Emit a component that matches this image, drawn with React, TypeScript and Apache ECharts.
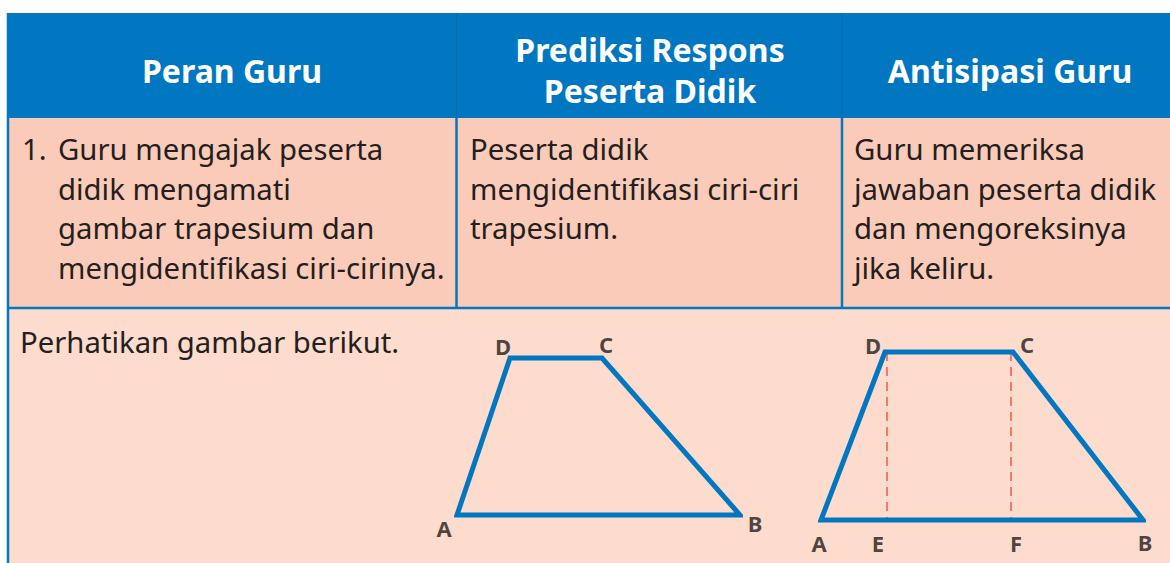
import React, { useEffect, useRef } from "react";
import * as echarts from "echarts";

// ---- table content ----
const headerCol1 = ["Peran Guru"];
const headerCol2 = ["Prediksi Respons", "Peserta Didik"];
const headerCol3 = ["Antisipasi Guru"];
const rowNumber = "1.";
const row1Col1 = [
  "Guru mengajak peserta",
  "didik mengamati",
  "gambar trapesium dan",
  "mengidentifikasi ciri-cirinya.",
];
const row1Col2 = ["Peserta didik", "mengidentifikasi ciri-ciri", "trapesium."];
const row1Col3 = [
  "Guru memeriksa",
  "jawaban peserta didik",
  "dan mengoreksinya",
  "jika keliru.",
];
const row2Text = "Perhatikan gambar berikut.";

// ---- figure 1: trapezium ABCD (figure units) ----
const fig1Names = ["A", "B", "C", "D"];
const fig1X = [0, 283, 145, 53];
const fig1Y = [0, 0, 157, 157];
const fig1LabelX = [-13, 298, 149, 46];
const fig1LabelY = [-13, -8, 171, 169];

// ---- figure 2: trapezium ABCD with heights DE, CF ----
const fig2Names = ["A", "B", "C", "D"];
const fig2X = [0, 322, 192, 64];
const fig2Y = [0, 0, 168, 168];
const fig2FootNames = ["E", "F"];
const fig2FootX = [66, 190];
const fig2LabelNames = ["A", "E", "F", "B", "C", "D"];
const fig2LabelX = [-2, 57, 195, 324, 206, 52];
const fig2LabelY = [-23, -23, -23, -22, 176, 175];

const BLUE = "#0077C0";
const ROW1 = "#FBCBB9";
const ROW2 = "#FDDBCD";
const INK = "#1E1B1C";
const DASH = "#F26F5E";

function App() {
  const ref = useRef<HTMLDivElement>(null);

  useEffect(() => {
    document.body.style.margin = "0";
    if (!ref.current) return;
    const chart = echarts.init(ref.current, undefined, { renderer: "svg" });

    const bodyFont = "29.3px 'Noto Sans'";
    const headFont = "bold 32px 'Noto Sans'";
    const g: any[] = [];
    // backgrounds
    g.push({ type: "rect", shape: { x: 7, y: 13, width: 1200, height: 105 }, style: { fill: BLUE } });
    g.push({ type: "rect", shape: { x: 7, y: 118, width: 1200, height: 190 }, style: { fill: ROW1 } });
    g.push({ type: "rect", shape: { x: 7, y: 308, width: 1200, height: 300 }, style: { fill: ROW2 } });
    // borders
    g.push({ type: "line", shape: { x1: 8, y1: 13, x2: 8, y2: 563 }, style: { stroke: BLUE, lineWidth: 2.5 } });
    g.push({ type: "line", shape: { x1: 7, y1: 308, x2: 1170, y2: 308 }, style: { stroke: BLUE, lineWidth: 2.5 } });
    g.push({ type: "line", shape: { x1: 456.5, y1: 118, x2: 456.5, y2: 308 }, style: { stroke: BLUE, lineWidth: 2.5 } });
    g.push({ type: "line", shape: { x1: 842, y1: 118, x2: 842, y2: 308 }, style: { stroke: BLUE, lineWidth: 2.5 } });
    g.push({ type: "line", shape: { x1: 456.5, y1: 13, x2: 456.5, y2: 118 }, style: { stroke: "#0A6BAA", lineWidth: 1 } });
    g.push({ type: "line", shape: { x1: 842, y1: 13, x2: 842, y2: 118 }, style: { stroke: "#0A6BAA", lineWidth: 1 } });

    const txt = (text: string, x: number, y: number, font: string, fill: string, align: string) =>
      g.push({ type: "text", x, y, style: { text, font, fill, align, verticalAlign: "middle" } });

    // header
    headerCol1.forEach((t, i) => txt(t, 232, 70 + i * 41, headFont, "#ffffff", "center"));
    headerCol2.forEach((t, i) => txt(t, 650, 49 + i * 41, headFont, "#ffffff", "center"));
    headerCol3.forEach((t, i) => txt(t, 1010, 70 + i * 41, headFont, "#ffffff", "center"));

    // row 1
    const ry = 149;
    const step = 39.5;
    txt(rowNumber, 22, ry, bodyFont, "#231F20", "left");
    row1Col1.forEach((t, i) => txt(t, 58, ry + i * step, bodyFont, "#231F20", "left"));
    row1Col2.forEach((t, i) => txt(t, 470, ry + i * step, bodyFont, "#231F20", "left"));
    row1Col3.forEach((t, i) => txt(t, 854, ry + i * step, bodyFont, "#231F20", "left"));
    // row 2
    txt(row2Text, 20, 342, bodyFont, "#231F20", "left");

    const closed = (xs: number[], ys: number[]) => {
      const pts = xs.map((x, i) => [x, ys[i]]);
      return [...pts, pts[0], pts[1]];
    };
    const labelStyle = {
      show: true,
      position: "inside",
      formatter: "{b}",
      color: INK,
      fontFamily: "Noto Sans",
      fontWeight: "bold",
      fontSize: 22,
    };

    const option: any = {
      animation: false,
      grid: [
        { left: 457, top: 358, width: 283, height: 157 },
        { left: 821, top: 352, width: 322, height: 168 },
      ],
      xAxis: [
        { type: "value", gridIndex: 0, min: 0, max: 283, show: false },
        { type: "value", gridIndex: 1, min: 0, max: 322, show: false },
      ],
      yAxis: [
        { type: "value", gridIndex: 0, min: 0, max: 157, show: false },
        { type: "value", gridIndex: 1, min: 0, max: 168, show: false },
      ],
      graphic: { elements: g },
      series: [
        {
          type: "line",
          xAxisIndex: 0,
          yAxisIndex: 0,
          data: closed(fig1X, fig1Y),
          symbol: "none",
          clip: false,
          silent: true,
          z: 5,
          lineStyle: { color: BLUE, width: 5, join: "miter", cap: "butt" },
        },
        {
          type: "scatter",
          xAxisIndex: 0,
          yAxisIndex: 0,
          clip: false,
          silent: true,
          symbolSize: 1,
          itemStyle: { color: "rgba(0,0,0,0)" },
          label: labelStyle,
          data: fig1Names.map((n, i) => ({ name: n, value: [fig1LabelX[i], fig1LabelY[i]] })),
          z: 6,
        },
        ...fig2FootX.map((fx, i) => ({
          type: "line",
          name: "D" + fig2FootNames[i],
          xAxisIndex: 1,
          yAxisIndex: 1,
          data: [
            [fx, fig2Y[2]],
            [fx, 0],
          ],
          symbol: "none",
          clip: false,
          silent: true,
          z: 4,
          lineStyle: { color: DASH, width: 1.8, type: [9, 6] },
        })),
        {
          type: "line",
          xAxisIndex: 1,
          yAxisIndex: 1,
          data: closed(fig2X, fig2Y),
          symbol: "none",
          clip: false,
          silent: true,
          z: 5,
          lineStyle: { color: BLUE, width: 5, join: "miter", cap: "butt" },
        },
        {
          type: "scatter",
          xAxisIndex: 1,
          yAxisIndex: 1,
          clip: false,
          silent: true,
          symbolSize: 1,
          itemStyle: { color: "rgba(0,0,0,0)" },
          label: labelStyle,
          data: fig2LabelNames.map((n, i) => ({ name: n, value: [fig2LabelX[i], fig2LabelY[i]] })),
          z: 6,
        },
      ],
    };
    chart.setOption(option);
    return () => chart.dispose();
  }, []);

  return <div ref={ref} style={{ width: 1170, height: 563 }} />;
}

export default App;
